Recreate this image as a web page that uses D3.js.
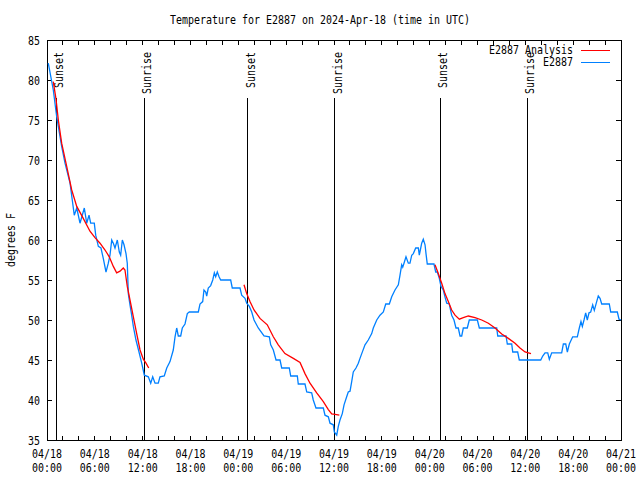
<!DOCTYPE html>
<html><head><meta charset="utf-8">
<script src="https://cdn.jsdelivr.net/npm/d3@7"></script>
<style>
body{margin:0;background:#fff;}
text{font-family:"DejaVu Sans Mono","Liberation Mono",monospace;font-size:11.5px;fill:#000;}
</style></head>
<body><svg id="c" width="640" height="480"></svg>
<script>
const title = "Temperature for E2887 on 2024-Apr-18 (time in UTC)";
const yLabel = "degrees F";
const seriesNames = ["E2887 Analysis", "E2887"];
const seriesColors = ["#ff0000", "#0080ff"];
const yTicks = [35,40,45,50,55,60,65,70,75,80,85];
const startTime = "2024-04-18T00:00:00Z";
const spanHours = 72;

// hours since 04/18 00:00 UTC
const obsHours = [0.16,0.79,1.22,1.84,2.26,2.89,3.17,3.42,3.73,4.14,4.68,4.98,5.27,5.48,5.93,6.11,6.44,6.77,7.06,7.40,7.69,7.90,8.12,8.32,8.53,8.82,9.07,9.24,9.45,9.66,9.91,10.07,10.20,10.41,10.62,10.83,11.16,11.54,11.88,12.21,12.71,13.01,13.26,13.55,13.96,14.17,14.71,15.02,15.43,15.84,16.06,16.27,16.47,16.77,16.97,17.31,17.60,17.85,18.98,19.19,19.53,19.69,19.91,20.03,20.23,20.53,20.79,20.99,21.16,21.36,21.58,21.79,23.04,23.24,24.21,24.42,24.84,25.05,25.38,25.68,25.97,26.50,27.22,27.89,28.06,28.39,28.73,29.23,29.44,30.39,30.57,31.40,31.52,32.36,32.58,33.20,33.40,33.74,34.66,34.87,35.29,35.50,35.91,36.04,36.34,36.54,36.75,37.04,37.26,37.59,37.79,38.01,38.22,38.42,38.76,39.05,39.26,39.48,39.89,40.30,40.73,40.93,41.36,41.77,42.19,42.49,42.94,43.24,43.65,44.07,44.28,44.49,44.62,44.78,45.03,45.32,45.53,45.75,45.95,46.25,46.58,46.70,46.88,47.00,47.20,47.42,47.54,47.70,48.54,48.76,48.96,49.21,49.42,49.71,49.92,50.14,50.46,50.76,51.05,51.30,51.59,51.81,52.02,52.22,52.72,52.97,53.98,54.23,56.41,56.54,57.58,57.74,58.29,58.42,59.04,59.24,61.93,62.18,62.47,62.81,63.01,63.31,64.56,64.77,65.07,65.27,65.52,65.94,66.52,66.77,66.98,67.15,67.36,67.57,67.77,67.99,68.20,68.45,68.65,68.95,69.15,69.37,69.58,70.53,70.71,71.54,71.75,72.0];
const obsTemps = [82.1,78.75,75.4,71.7,69.6,67.1,65,63.1,64,62.1,64,62.1,63.1,62.1,62.1,60.6,59.2,59,57.7,56,57.1,58.1,60,59.6,59,60,58.5,58.1,60,59.4,58.3,57.1,53.3,51.9,50.6,49.2,47.5,46,44.6,43.1,42.9,42.1,42.9,42.1,42.1,42.9,43,44,44.8,46.25,47.9,49,48,48,49,49.5,50.8,51,51,52,52.3,53.75,53.5,53,54,54.3,55,55.9,55.4,56,55.4,55,55,54,54,53.1,52.7,52.1,51.7,51,50,49,48,47.9,46.9,46.25,45,45,44,44,43,43,42,42,41,40.9,40,39,39,38.1,37.9,37.1,36.9,36,35.6,36.7,37.5,38.3,39.4,40.4,41,41.1,42.3,43.5,44,44.6,45.2,45.8,46.9,47.5,48.3,49,50,50.6,51,52,52,52.9,53.75,54.4,55.6,56.9,56.6,57.1,57.9,57.1,57.1,58.1,58.3,59,59,58.1,59,59.6,60.1,59.4,58.3,57,57,56,56,55.2,54.2,53.75,52.9,52.1,52,50.6,50,49,49,48,48,49,49,50,50,49,49,48,48,47,47,46,46,45,45,45.5,45.9,45.9,45.1,45.9,45.9,47,47,46,47,47.9,47.9,49,49.8,49.2,50,50.9,50,50.9,51,51.9,51.2,52.3,53,52.7,52,52,51,51,50.1,50];

const anaHours1 = [0.79,1.13,1.42,1.84,2.47,3.10,3.73,4.55,5.39,6.02,6.65,7.28,7.81,8.32,8.74,9.16,9.57,9.78,10.07,10.41,10.83,11.25,11.67,12.08,12.42,12.76];
const anaTemps1 = [79.8,77.6,75,72.1,69.2,66.25,64.2,62.7,61.1,60.3,59.6,58.75,57.9,56.7,55.9,56.1,56.5,56.25,54.2,52.5,50.4,48.3,46.25,45.1,44.6,44];
const anaHours2 = [24.71,25.05,25.46,25.97,26.72,27.63,28.39,29.01,29.85,30.90,31.74,32.36,32.99,33.83,34.66,35.29,35.71,36.13,36.67];
const anaTemps2 = [54.4,53.3,52.3,51.25,50.2,49.4,47.9,46.9,45.8,45.2,44.7,43.3,42.1,40.9,39.8,38.8,38.25,38.2,38.1];
const anaHours3 = [48.67,49.08,49.51,49.92,50.34,50.76,51.18,51.72,52.22,52.85,53.69,54.53,55.36,56.20,57.04,57.87,58.71,59.33,59.96,60.71];
const anaTemps3 = [56.9,55.8,54.6,53.3,52.3,51.25,50.6,50.1,50.3,50.5,50.3,50,49.6,49,48.25,47.7,47.1,46.5,46,45.8];

const sunEventHours = [1.17,12.2,25.18,36.1,49.35,60.25];
const sunEventNames = ["Sunset","Sunrise","Sunset","Sunrise","Sunset","Sunrise"];

const t0 = new Date(startTime).getTime();
const toDate = h => new Date(t0 + h*3600e3);
const svg = d3.select("#c");
const L=47, R=621, T=40, B=440;
const x = d3.scaleUtc().domain([toDate(0), toDate(spanHours)]).range([L,R]);
const y = d3.scaleLinear().domain([35,85]).range([B,T]);
const CW = 6; // char width
function fit(sel, s){ sel.text(s).attr("textLength", s.length*CW).attr("lengthAdjust","spacingAndGlyphs"); return sel; }

// title
fit(svg.append("text").attr("x",320).attr("y",24).attr("text-anchor","middle"), title);
// y label
fit(svg.append("text").attr("transform","translate(15,240) rotate(-90)").attr("text-anchor","middle"), yLabel);

const g = svg.append("g").attr("shape-rendering","crispEdges");
// y ticks
const yAxisL = d3.axisLeft(y).tickValues(yTicks).tickSize(0).tickFormat(d=>d).tickPadding(7);
const ya = g.append("g").attr("transform",`translate(${L},0)`).call(yAxisL);
ya.select(".domain").remove();
ya.selectAll("text").attr("font-family",null).attr("font-size",null).attr("dy",null).attr("y",4).each(function(d){ fit(d3.select(this), String(d)); });
yTicks.forEach(v=>{
  g.append("line").attr("x1",L).attr("x2",L+5).attr("y1",y(v)).attr("y2",y(v)).attr("stroke","#000");
  g.append("line").attr("x1",R).attr("x2",R-5).attr("y1",y(v)).attr("y2",y(v)).attr("stroke","#000");
});
// x ticks
const minor = d3.utcHour.every(2).range(toDate(0), toDate(spanHours+0.01));
minor.forEach(d=>{
  g.append("line").attr("x1",x(d)).attr("x2",x(d)).attr("y1",B).attr("y2",B-4).attr("stroke","#000");
  g.append("line").attr("x1",x(d)).attr("x2",x(d)).attr("y1",T).attr("y2",T+5).attr("stroke","#000");
});
const major = d3.utcHour.every(6).range(toDate(0), toDate(spanHours+0.01));
const fD = d3.utcFormat("%m/%d"), fT = d3.utcFormat("%H:%M");
major.forEach(d=>{
  fit(svg.append("text").attr("x",x(d)).attr("y",458).attr("text-anchor","middle"), fD(d));
  fit(svg.append("text").attr("x",x(d)).attr("y",472).attr("text-anchor","middle"), fT(d));
});
// border
g.append("rect").attr("x",L).attr("y",T).attr("width",R-L).attr("height",B-T).attr("fill","none").attr("stroke","#000");

// sun events
sunEventHours.forEach((h,i)=>{
  const px = x(toDate(h));
  g.append("line").attr("x1",px).attr("x2",px).attr("y1",98).attr("y2",B).attr("stroke","#000");
  fit(svg.append("text").attr("transform",`translate(${px+7},52) rotate(-90)`).attr("text-anchor","end"), sunEventNames[i]);
});

const line = d3.line().x(d=>x(toDate(d[0]))).y(d=>y(d[1]));
const pg = svg.append("g");
pg.append("path").datum(obsHours.map((h,i)=>[h,obsTemps[i]])).attr("d",line).attr("fill","none").attr("stroke",seriesColors[1]).attr("stroke-width",1.3);
[[anaHours1,anaTemps1],[anaHours2,anaTemps2],[anaHours3,anaTemps3]].forEach(([hs,ts])=>{
  pg.append("path").datum(hs.map((h,i)=>[h,ts[i]])).attr("d",line).attr("fill","none").attr("stroke",seriesColors[0]).attr("stroke-width",1.3);
});

// legend
seriesNames.forEach((n,i)=>{
  const yy = 50 + i*12;
  fit(svg.append("text").attr("x",573).attr("y",yy+4).attr("text-anchor","end"), n);
  g.append("line").attr("x1",581).attr("x2",610).attr("y1",yy).attr("y2",yy).attr("stroke",seriesColors[i]);
});
</script></body></html>
